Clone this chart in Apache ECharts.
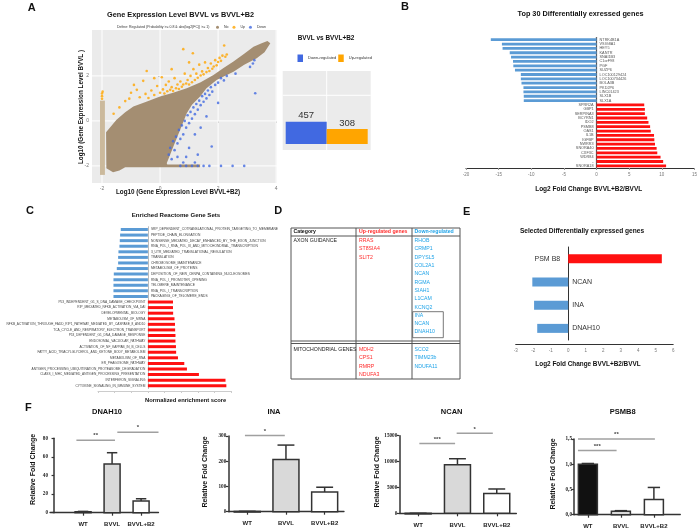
<!DOCTYPE html>
<html><head><meta charset="utf-8">
<script src="https://cdn.jsdelivr.net/npm/echarts@6/dist/echarts.min.js"></script>
<style>html,body{margin:0;padding:0;background:#fff}#c{width:700px;height:530px}</style>
</head><body><div id="c"></div>
<script>
// ================= DATA =================
// Panel A – scatter (log10 expression BVVL+B2 vs BVVL)
const aXTicks = [-2, 0, 2, 4];
const aYTicks = [-2, 0, 2];
const cloudNo = [[-1.62,-2.28],[-1.85,-2.1],[-1.86,-0.5],[-1.5,0.05],[-1.2,0.38],[-0.92,0.64],[-0.45,0.86],[0,1.08],[0.45,1.25],[0.92,1.45],[1.4,1.72],[1.84,2.04],[2.2,2.36],[2.53,2.64],[2.9,2.98],[3.22,3.3],[3.5,3.45],[3.7,3.55],[3.8,3.45],[3.6,3.05],[3.33,2.79],[2.9,2.5],[2.53,2.19],[1.95,1.82],[1.6,1.45],[1.38,1.08],[1.1,0.72],[0.92,0.34],[0.69,-0.4],[0.46,-1.14],[0.23,-1.88],[0.25,-1.94],[1.38,-1.94],[1.38,-2.06],[-1.2,-2.06],[-1.4,-2.2]];
const stripeNo = [[-2.07,-2.4],[-2.07,0.9],[-1.9,0.9],[-1.9,-2.4]];
const upPoints = [[-2.0,1.22],[-2.0,1.1],[-2.0,0.98],[-1.98,1.3],[-1.6,0.32],[-1.4,0.6],[-1.2,0.88],[-1.06,0.99],[-0.8,1.38],[-0.9,1.6],[-1.0,1.25],[-0.7,1.05],[-0.58,1.78],[-0.5,1.2],[-0.46,2.22],[-0.4,1.02],[-0.3,1.35],[-0.2,1.15],[-0.2,1.9],[-0.1,1.55],[0.0,1.25],[0.06,1.94],[0.1,1.4],[0.15,1.22],[0.2,1.6],[0.25,1.32],[0.3,1.75],[0.35,1.38],[0.4,1.5],[0.4,2.3],[0.45,1.33],[0.5,1.9],[0.55,1.45],[0.6,1.62],[0.65,1.42],[0.7,1.75],[0.75,1.52],[0.8,3.19],[0.8,1.62],[0.85,2.1],[0.9,1.66],[0.95,1.82],[1.0,1.62],[1.0,2.6],[1.05,2.0],[1.1,1.72],[1.13,3.01],[1.15,2.3],[1.2,1.82],[1.25,2.1],[1.3,1.92],[1.35,2.5],[1.4,2.02],[1.45,2.2],[1.5,2.07],[1.55,2.6],[1.6,2.17],[1.65,2.35],[1.7,2.22],[1.75,2.55],[1.8,2.32],[1.85,2.42],[1.9,2.7],[1.95,2.47],[2.0,2.62],[2.05,2.8],[2.1,2.67],[2.15,2.9],[2.21,3.35],[2.25,2.85],[2.3,2.95]];
const downPoints = [[0.3,-1.5],[0.35,-1.2],[0.4,-1.7],[0.45,-0.9],[0.5,-1.3],[0.55,-0.7],[0.6,-1.0],[0.6,-1.6],[0.65,-0.4],[0.7,-0.8],[0.75,-0.2],[0.8,-0.6],[0.85,0.0],[0.9,-0.3],[0.95,0.25],[1.0,-0.1],[1.0,-1.2],[1.05,0.4],[1.1,0.1],[1.15,0.6],[1.2,0.3],[1.25,0.75],[1.3,0.5],[1.35,0.9],[1.4,0.7],[1.45,1.1],[1.5,0.85],[1.55,1.2],[1.6,1.0],[1.65,1.35],[1.7,1.15],[1.75,1.5],[1.8,1.3],[1.78,-1.14],[1.9,1.6],[2.0,1.7],[2.1,1.9],[2.2,1.8],[2.3,2.0],[1.2,-0.6],[1.4,-0.3],[1.3,-1.5],[0.9,-1.6],[1.6,0.2],[2.0,0.8],[3.28,1.23],[3.2,2.55],[3.25,2.7],[3.1,2.4],[2.6,2.1],[0.7,-2.0],[0.9,-2.0],[1.1,-2.0],[1.3,-2.0],[1.5,-2.0],[1.7,-2.0],[2.1,-2.0],[2.5,-2.0],[2.9,-2.0],[0.8,-1.85],[1.2,-1.85]];
// Panel A – counts
const countCategory = ['BVVL vs BVVL+B2'];
const downCount = [457];
const upCount = [308];
const aBarGridY = [1000];
// Panel B – top 30 genes
const bGenes = ['NTRK4B1A','VSIG8A1','HEY5','KANTR','SNAI1B3','C1orF98','PGF','SUZP6','LOC100129424','LOC100734426','BOLA3B','PKD2P6','LINC01423','SLX1B','SLX1A',
 'SPRR2A','GBP1','SERPINA3','BCYRN1','IDO2','PSMB8','OAS1','IL1B','IGFBP','NWRR3','SNORA40','CXF3C','WDR84','-','SNORA18'];
const bDown = [-16.2,-14.5,-14.4,-13.3,-13.1,-12.8,-12.75,-12.5,-11.6,-11.6,-11.5,-11.2,-11.2,-11.15,-11.15];
const bUp = [7.3,7.4,7.4,7.75,7.95,8.2,8.3,8.8,8.85,8.95,9.2,9.3,9.8,10.2,10.65];
// Panel C – reactome gene sets
const cSets = ['SRP_DEPENDENT_COTRANSLATIONAL_PROTEIN_TARGETING_TO_MEMBRANE','PEPTIDE_CHAIN_ELONGATION','NONSENSE_MEDIATED_DECAY_ENHANCED_BY_THE_EXON_JUNCTION','RNA_POL_I_RNA_POL_III_AND_MITOCHONDRIAL_TRANSCRIPTION','3_UTR_MEDIATED_TRANSLATIONAL_REGULATION','TRANSLATION','CHROMOSOME_MAINTENANCE','METABOLISM_OF_PROTEINS','DEPOSITION_OF_NEW_CENPA_CONTAINING_NUCLEOSOMES','RNA_POL_I_PROMOTER_OPENING','TELOMERE_MAINTENANCE','RNA_POL_I_TRANSCRIPTION','PACKAGING_OF_TELOMERE_ENDS',
 'P53_INDEPENDENT_G1_S_DNA_DAMAGE_CHECKPOINT','RIP_MEDIATED_NFKB_ACTIVATION_VIA_DAI','DEVELOPMENTAL_BIOLOGY','METABOLISM_OF_MRNA','NFKB_ACTIVATION_THROUGH_FADD_RIP1_PATHWAY_MEDIATED_BY_CASPASE_8_AND10','TCA_CYCLE_AND_RESPIRATORY_ELECTRON_TRANSPORT','P53_DEPENDENT_G1_DNA_DAMAGE_RESPONSE','ENDOSOMAL_VACUOLAR_PATHWAY','ACTIVATION_OF_NF_KAPPAB_IN_B_CELLS','FATTY_ACID_TRIACYLGLYCEROL_AND_KETONE_BODY_METABOLISM','METABOLISM_OF_RNA','ER_PHAGOSOME_PATHWAY','ANTIGEN_PROCESSING_UBIQUITINATION_PROTEASOME_DEGRADATION','CLASS_I_MHC_MEDIATED_ANTIGEN_PROCESSING_PRESENTATION','INTERFERON_SIGNALING','CYTOKINE_SIGNALING_IN_IMMUNE_SYSTEM'];
const cDown = [-1.63,-1.67,-1.69,-1.71,-1.77,-1.79,-1.79,-1.87,-2.05,-2.07,-2.07,-2.07,-2.07];
const cUp = [1.51,1.51,1.52,1.6,1.63,1.64,1.66,1.66,1.69,1.7,1.81,2.19,2.35,3.07,4.67,4.72];
// Panel D – table
const tableHeader = ['Category','Up-regulated genes','Down-regulated'];
const tableCategories = ['AXON GUIDANCE','MITOCHONDRIAL GENES'];
const axonUp = ['RRAS','ST8SIA4','SLIT2'];
const axonDown = ['RHOB','CRMP1','DPYSL5','COL2A1','NCAN','RGMA','SIAH1','L1CAM','KCNQ2','INA','NCAN','DNAH10'];
const mitoUp = ['MDH2','CPS1','RMRP','NDUFA3'];
const mitoDown = ['SCO2','TIMM23b','NDUFA11'];
// Panel E – selected genes
const eGenes = ['PSM B8','NCAN','INA','DNAH10'];
const eUp = [5.35,'-','-','-'];
const eDown = ['-',-2.05,-1.95,-1.77];
// Panel F – qPCR
const fCats = ['WT','BVVL','BVVL+B2'];
const dnah10Mean = [1, 52.5, 12.5];
const dnah10Err = [0.4, 12, 2.5];
const dnah10Sig = [[0.77,2.1,78,'**'],[2.18,3.6,86.5,'*']];
const inaMean = [1, 207, 78];
const inaErr = [0.5, 57, 19];
const inaSig = [[0.94,1.97,302,'*']];
const ncanMean = [1, 9400, 3850];
const ncanErr = [1, 1150, 850];
const ncanSig = [[1.03,1.94,13500,'***'],[1.98,2.9,15450,'*']];
const psmb8Mean = [1.0, 0.07, 0.3];
const psmb8Err = [0.015, 0.01, 0.24];
const psmb8Sig = [[0.7,1.87,1.27,'***'],[0.7,3.03,1.5,'**']];

// ================= HELPERS =================
const FONT = '"Liberation Sans", Arial, sans-serif';
const SERIF = '"Liberation Serif", "Times New Roman", serif';
function txt(text, x, y, size, o = {}) {
  return {type:'text', x, y, rotation:o.rot||0, silent:true, z:50,
    style:{text, x:0, y:0, font:`${o.weight||'normal'} ${size}px ${o.family||FONT}`, fill:o.color||'#111',
      align:o.align||'center', verticalAlign:o.valign||'middle'}};
}
function hline(x1,y1,x2,y2,w,c){return {type:'line', silent:true, z:40, shape:{x1,y1,x2,y2}, style:{stroke:c||'#555', lineWidth:w||1}};}

function gridLines(gi, vx, vy) {
  const items = vx.map(v=>['x',v]).concat(vy.map(v=>['y',v]));
  return {type:'custom', xAxisIndex:gi, yAxisIndex:gi, silent:true, z:1, clip:false,
    data: items.map(()=>[0, 0]),
    renderItem:(p, api)=>{
      const cs = p.coordSys, it = items[p.dataIndex];
      if (it[0]==='x') { const px = api.coord([it[1], 0])[0];
        return {type:'line', shape:{x1:px,y1:cs.y,x2:px,y2:cs.y+cs.height}, style:{stroke:'#fff',lineWidth:1}}; }
      const py = api.coord([0, it[1]])[1];
      return {type:'line', shape:{x1:cs.x,y1:py,x2:cs.x+cs.width,y2:py}, style:{stroke:'#fff',lineWidth:1}};
    }};
}
function polygonSeries(name, pts, color, z) {
  return {type:'custom', name, xAxisIndex:0, yAxisIndex:0, silent:true, z, clip:true,
    itemStyle:{color}, data:[[0,0]],
    renderItem:(p, api)=>({type:'polygon', shape:{points: pts.map(pt=>api.coord(pt))}, style:{fill:color}})};
}
function fBars(gi, means, errs, barW, fills) {
  return {type:'custom', xAxisIndex:gi, yAxisIndex:gi, clip:false, z:3, silent:true,
    data: means.map((m,i)=>[i+1, m, errs[i]]),
    renderItem:(p, api)=>{
      const x=api.value(0), y=api.value(1), e=api.value(2);
      const base=api.coord([x,0]), top=api.coord([x,y]), et=api.coord([x,y+e]);
      const cw = barW*0.65;
      return {type:'group', children:[
        {type:'line', shape:{x1:top[0],y1:top[1],x2:et[0],y2:et[1]}, style:{stroke:'#333',lineWidth:1.5}},
        {type:'line', shape:{x1:et[0]-cw/2,y1:et[1],x2:et[0]+cw/2,y2:et[1]}, style:{stroke:'#333',lineWidth:1.5}},
        {type:'rect', shape:{x:base[0]-barW/2, y:top[1], width:barW, height:Math.max(base[1]-top[1],0.6)}, style:{fill:fills[p.dataIndex], stroke:'#333', lineWidth:1.5}}
      ]};
    }};
}
function fSig(gi, sig) {
  return {type:'custom', xAxisIndex:gi, yAxisIndex:gi, clip:false, z:4, silent:true,
    data: sig.map(s=>[s[0], s[2], s[1]]),
    renderItem:(p, api)=>{
      const a=api.coord([api.value(0), api.value(1)]), b=api.coord([api.value(2), api.value(1)]);
      return {type:'group', children:[
        {type:'line', shape:{x1:a[0],y1:a[1],x2:b[0],y2:b[1]}, style:{stroke:'#a0a0a0',lineWidth:1.5}},
        {type:'text', style:{text:sig[p.dataIndex][3], x:(a[0]+b[0])/2, y:a[1]-1.5, align:'center', verticalAlign:'bottom', font:'bold 6px '+FONT, fill:'#444'}}
      ]};
    }};
}
function fX(gi, min, max) {
  return {type:'value', gridIndex:gi, min, max,
    axisLine:{show:true, onZero:false, lineStyle:{color:'#333', width:1.3}},
    axisTick:{show:true, customValues:[1,2,3], length:3, lineStyle:{color:'#333', width:1.2}},
    axisLabel:{customValues:[1,2,3], formatter:v=>fCats[Math.round(v)-1]||'', margin:9, fontSize:6, fontWeight:'bold', fontFamily:FONT, color:'#222'},
    splitLine:{show:false}};
}
function fY(gi, max, interval, fmt) {
  return {type:'value', gridIndex:gi, min:0, max, interval,
    axisLine:{show:true, lineStyle:{color:'#333', width:1.5}},
    axisTick:{show:true, length:2.5, lineStyle:{color:'#333', width:1.2}},
    axisLabel:{fontSize:5.2, fontFamily:SERIF, fontWeight:'bold', color:'#222', margin:2, formatter:fmt||(v=>String(v))},
    splitLine:{show:false}};
}

// ================= GRAPHIC (titles, letters, table) =================
const g = [];
[['A',31.7,8],['B',405,7],['C',30,211],['D',278.3,211],['E',466.7,212],['F',28.3,407.5]].forEach(l=>g.push(txt(l[0],l[1],l[2],11,{weight:'bold'})));
g.push(txt('Gene Expression Level BVVL vs BVVL+B2',180.5,14.5,7.3,{weight:'bold'}));
g.push(txt('Define: Regulated (Probability >= 0.8 & abs(log2(FC)) >= 1)',117,27.3,3.5,{align:'left',color:'#333'}));
g.push(txt('Log10 (Gene Expression Level BVVL+B2)',178,192,6.3,{weight:'bold'}));
g.push(txt('Log10 (Gene Expression Level BVVL )',81,107,6.3,{weight:'bold',rot:Math.PI/2}));
g.push(txt('BVVL vs BVVL+B2',326,38.5,6.4,{weight:'bold'}));
g.push(txt('Top 30 Differentially exressed genes',580.5,14,7.3,{weight:'bold'}));
g.push(txt('Log2 Fold Change BVVL+B2/BVVL',588.7,189.5,6.5,{weight:'bold'}));
g.push(txt('Enriched Reactome Gene Sets',176,215,6.1,{weight:'bold'}));
g.push(txt('Normalized enrichment score',185.7,400,5.8,{weight:'bold'}));
g.push(txt('Selected Differentially expressed genes',582,231,6.6,{weight:'bold'}));
g.push(txt('Log2 Fold Change BVVL+B2/BVVL',588,364.5,6.4,{weight:'bold'}));
[['DNAH10',107],['INA',274],['NCAN',451.7],['PSMB8',622.7]].forEach(t=>g.push(txt(t[0],t[1],411.5,7.5,{weight:'bold'})));
[[33.3,469.5],[205.5,472],[377.5,472],[553,474]].forEach(p=>g.push(txt('Relative Fold Change',p[0],p[1],7,{weight:'bold',rot:Math.PI/2})));
// table D
const TX0=291, TX1=356, TX2=412, TX3=460, TY0=228, TYH=236, TYR1=341, TYR2=343.5, TY3=379;
g.push({type:'rect', silent:true, z:40, shape:{x:TX0,y:TY0,width:TX3-TX0,height:TY3-TY0}, style:{fill:'none',stroke:'#555',lineWidth:1}});
g.push(hline(TX0,TYH,TX3,TYH,1)); g.push(hline(TX0,TYR1,TX3,TYR1,1)); g.push(hline(TX0,TYR2,TX3,TYR2,1));
g.push(hline(TX1,TY0,TX1,TY3,1)); g.push(hline(TX2,TY0,TX2,TY3,1));
g.push({type:'rect', silent:true, z:40, shape:{x:412.7,y:311.7,width:30.6,height:26}, style:{fill:'none',stroke:'#555',lineWidth:0.8}});
const RED='#ff2a2a', CYAN='#1fa3e8', TFS=5.2;
g.push(txt(tableHeader[0],TX0+2.5,232,TFS,{align:'left',weight:'bold'}));
g.push(txt(tableHeader[1],TX1+3,232,TFS,{align:'left',weight:'bold',color:RED}));
g.push(txt(tableHeader[2],TX2+2.5,232,TFS,{align:'left',weight:'bold',color:CYAN}));
g.push(txt(tableCategories[0],TX0+2.5,240.7,TFS,{align:'left',color:'#222'}));
g.push(txt(tableCategories[1],TX0+2.5,349.3,TFS,{align:'left',color:'#222'}));
axonUp.forEach((s,i)=>g.push(txt(s,TX1+3,240.7+i*8.3,TFS,{align:'left',color:RED})));
axonDown.forEach((s,i)=>g.push(txt(s,TX2+2.5,240.7+i*8.3,TFS,{align:'left',color:CYAN})));
mitoUp.forEach((s,i)=>g.push(txt(s,TX1+3,349.3+i*8.45,TFS,{align:'left',color:RED})));
mitoDown.forEach((s,i)=>g.push(txt(s,TX2+2.5,349.3+i*8.45,TFS,{align:'left',color:CYAN})));

// ================= OPTION =================
const BLUE='#5b9bd5', REDB='#ff1010';
const option = {
  animation:false,
  backgroundColor:'#fff',
  textStyle:{fontFamily:FONT},
  graphic:g,
  legend:[
    {data:[{name:'No',icon:'circle',itemStyle:{color:'#a48e72'}},{name:'Up',icon:'circle',itemStyle:{color:'#ffa500'}},{name:'Down',icon:'circle',itemStyle:{color:'#4169e1'}}],
     left:216, top:25.3, itemWidth:3, itemHeight:3, itemGap:4, padding:0, selectedMode:false, textStyle:{fontSize:3.5,color:'#333'}},
    {data:[{name:'Down-regulated',icon:'rect',itemStyle:{color:'#4169e1'}},{name:'Up-regulated',icon:'rect',itemStyle:{color:'#ffa500'}}],
     left:297.5, top:54.5, itemWidth:5.5, itemHeight:7.5, itemGap:2, padding:0, selectedMode:false, textStyle:{fontSize:4,color:'#333'}}
  ],
  grid:[
    {left:92, top:30, width:185, height:153, show:true, backgroundColor:'#ebebeb', borderWidth:0},
    {left:282.7, top:71, width:88, height:79, show:true, backgroundColor:'#ebebeb', borderWidth:0},
    {left:466, top:37.5, width:229, height:130.5},
    {left:98, top:226.7, width:133, height:161.8},
    {left:515.7, top:247, width:157.5, height:93},
    {left:50, top:438.3, width:108.5, height:74.4},
    {left:228.3, top:436, width:115.7, height:75.7},
    {left:399.3, top:435.7, width:117.1, height:77.6},
    {left:574, top:439, width:106.3, height:75.7}
  ],
  xAxis:[
    {type:'value', gridIndex:0, min:-2.345, max:4.03, axisLine:{show:false},
     axisTick:{show:true, customValues:aXTicks, length:2, lineStyle:{color:'#999'}},
     axisLabel:{customValues:aXTicks, fontSize:5, color:'#777', margin:3}, splitLine:{show:false}},
    {type:'category', gridIndex:1, data:countCategory, axisLine:{show:false}, axisTick:{show:false}, axisLabel:{show:false}},
    {type:'value', gridIndex:2, min:-20, max:15, interval:5, axisLine:{show:true, onZero:false, lineStyle:{color:'#333',width:1.2}},
     axisTick:{show:true,length:2,lineStyle:{color:'#999'}}, axisLabel:{fontSize:4.5,color:'#777',margin:4}, splitLine:{show:false}},
    {type:'value', gridIndex:3, min:-3, max:5, interval:1, offset:2.5, axisLine:{show:true, onZero:false, lineStyle:{color:'#ccc',width:1}},
     axisTick:{show:true,length:2,lineStyle:{color:'#ccc'}}, axisLabel:{show:false}, splitLine:{show:false}},
    {type:'value', gridIndex:4, min:-3, max:6, interval:1, offset:4, axisLine:{show:true, onZero:false, lineStyle:{color:'#333',width:1}},
     axisTick:{show:false}, axisLabel:{fontSize:4.5,color:'#777',margin:4}, splitLine:{show:false}},
    fX(5, -0.14, 3.6), fX(6, 0.51, 3.5), fX(7, 0.52, 3.5), fX(8, 0.58, 3.8)
  ],
  yAxis:[
    {type:'value', gridIndex:0, min:-2.76, max:4.04, axisLine:{show:false},
     axisTick:{show:true, customValues:aYTicks, length:2, lineStyle:{color:'#999'}},
     axisLabel:{customValues:aYTicks, fontSize:5, color:'#777', margin:3}, splitLine:{show:false}},
    {type:'value', gridIndex:1, min:-125, max:1500, axisLine:{show:false}, axisTick:{show:false}, axisLabel:{show:false}, splitLine:{show:false}},
    {type:'category', gridIndex:2, data:bGenes, inverse:true, axisLine:{show:true, lineStyle:{color:'#555',width:1.2}}, axisTick:{show:false}, axisLabel:{show:false}},
    {type:'category', gridIndex:3, data:cSets, inverse:true, axisLine:{show:true, lineStyle:{color:'#bbb',width:1}}, axisTick:{show:false}, axisLabel:{show:false}},
    {type:'category', gridIndex:4, data:eGenes, inverse:true, axisLine:{show:true, lineStyle:{color:'#333',width:1}}, axisTick:{show:false}, axisLabel:{show:false}},
    fY(5, 80, 20), fY(6, 300, 100), fY(7, 15000, 5000), fY(8, 1.5, 0.5, v=>v.toFixed(1).replace('.',','))
  ],
  series:[
    // A scatter
    gridLines(0, aXTicks, aYTicks),
    polygonSeries('No', cloudNo, '#a48e72', 2),
    polygonSeries('NoStripe', stripeNo, '#cbb99c', 2),
    {type:'scatter', name:'Up', xAxisIndex:0, yAxisIndex:0, data:upPoints, symbolSize:2.6, itemStyle:{color:'#ffa500'}, z:3, silent:true},
    {type:'scatter', name:'Down', xAxisIndex:0, yAxisIndex:0, data:downPoints, symbolSize:2.6, itemStyle:{color:'#4169e1'}, z:3, silent:true},
    // A counts
    gridLines(1, [0], aBarGridY),
    {type:'bar', name:'Down-regulated', xAxisIndex:1, yAxisIndex:1, data:downCount, barWidth:41, barGap:'0%', z:3,
     itemStyle:{color:'#4169e1'}, label:{show:true, position:'top', distance:1, fontSize:9.5, color:'#333'}},
    {type:'bar', name:'Up-regulated', xAxisIndex:1, yAxisIndex:1, data:upCount, barWidth:41, barGap:'0%', z:3,
     itemStyle:{color:'#ffa500'}, label:{show:true, position:'top', distance:1, fontSize:9.5, color:'#333'}},
    // B
    {type:'bar', xAxisIndex:2, yAxisIndex:2, data:bDown.concat(bUp.map(()=>'-')), barWidth:2.8, barGap:'-100%', itemStyle:{color:BLUE},
     label:{show:true, position:'right', distance:3, fontSize:3.8, color:'#555', formatter:p=>p.name}},
    {type:'bar', xAxisIndex:2, yAxisIndex:2, data:bDown.map(()=>'-').concat(bUp), barWidth:2.8, barGap:'-100%', itemStyle:{color:REDB},
     label:{show:true, position:'left', distance:3, fontSize:3.8, color:'#555', formatter:p=>p.name}},
    // C
    {type:'bar', xAxisIndex:3, yAxisIndex:3, data:cDown.concat(cUp.map(()=>'-')), barWidth:3, barGap:'-100%', itemStyle:{color:BLUE},
     label:{show:true, position:'right', distance:3, fontSize:3.3, color:'#444', formatter:p=>p.name}},
    {type:'bar', xAxisIndex:3, yAxisIndex:3, data:cDown.map(()=>'-').concat(cUp), barWidth:3, barGap:'-100%', itemStyle:{color:REDB},
     label:{show:true, position:'left', distance:2.5, fontSize:3.2, color:'#444', formatter:p=>p.name}},
    // E
    {type:'bar', xAxisIndex:4, yAxisIndex:4, data:eUp, barWidth:9, barGap:'-100%', itemStyle:{color:REDB},
     label:{show:true, position:'left', distance:8, fontSize:7, color:'#333', formatter:p=>p.name}},
    {type:'bar', xAxisIndex:4, yAxisIndex:4, data:eDown, barWidth:9, barGap:'-100%', itemStyle:{color:BLUE},
     label:{show:true, position:'right', distance:4, fontSize:7, color:'#333', formatter:p=>p.name}},
    // F
    fBars(5, dnah10Mean, dnah10Err, 16, ['#fff','#d9d9d9','#fff']), fSig(5, dnah10Sig),
    fBars(6, inaMean, inaErr, 26, ['#fff','#d9d9d9','#fff']), fSig(6, inaSig),
    fBars(7, ncanMean, ncanErr, 26, ['#fff','#d9d9d9','#fff']), fSig(7, ncanSig),
    fBars(8, psmb8Mean, psmb8Err, 19, ['#111','#d9d9d9','#fff']), fSig(8, psmb8Sig)
  ]
};
const chart = echarts.init(document.getElementById('c'), null, {renderer:'canvas'});
chart.setOption(option);
</script>
</body></html>
